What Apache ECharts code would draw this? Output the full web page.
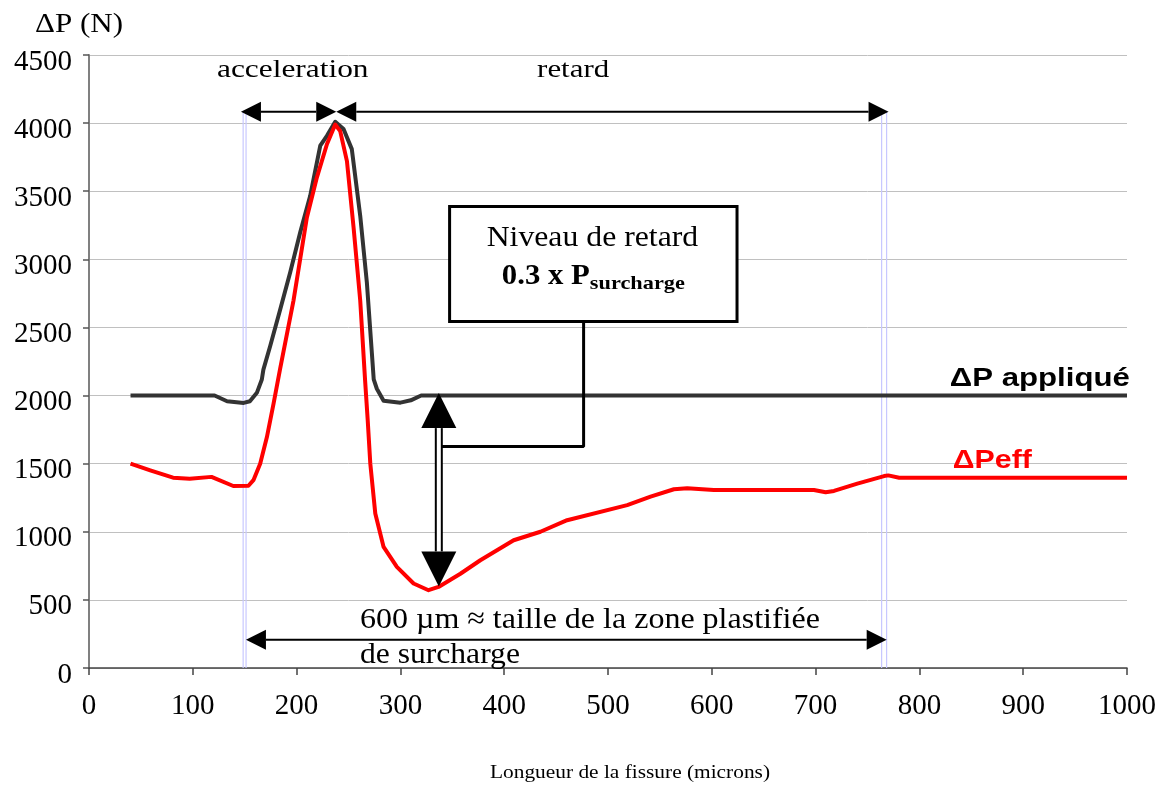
<!DOCTYPE html>
<html><head><meta charset="utf-8">
<script src="https://cdn.jsdelivr.net/npm/echarts@6/dist/echarts.min.js"></script>
<style>html,body{margin:0;padding:0;background:#fff}#c{width:1168px;height:785px}</style>
</head><body><div id="c"></div>
<script>
// ---- data ----
const appliedX = [40,121,133,149,155,161.7,166.5,168,174.5,184.2,193.8,203.5,213.1,222.8,229.2,237.2,245.2,253.2,261.3,267.7,272.5,274.3,277.3,283.8,300,310,320,1000];
const appliedY = [2000,2000,1958,1946,1958,2020,2118,2190,2362,2632,2904,3198,3466,3834,3907,4010,3956,3809,3319,2829,2314,2118,2050,1962,1948,1965,2000,2000];
const effX = [40,59,81,97,118,139,153.6,158.4,164.9,171.4,177.8,184.2,197,209.9,219.5,229.2,237.2,242,248.5,254.9,261.3,266,268.5,271,275.8,283.8,296.6,312.7,327.1,336.7,357.8,377,409.1,434.9,460.6,518.5,541,563.5,576.3,601.9,640.5,698.4,709.7,717.7,740.2,766,770,780.5,1000];
const effY = [1500,1451,1397,1390,1403,1336,1338,1379,1500,1695,1940,2200,2697,3307,3600,3845,3990,3941,3721,3233,2697,2110,1820,1500,1134,889,742,620,571,595,692,791,938,1000,1085,1196,1258,1312,1319,1307,1307,1307,1290,1300,1353,1409,1414,1397,1397];

// annotation geometry (data units)
const zoneLinesX = [148.5, 151.3, 763.6, 768.4];
const zoneLineTop = 4090;
const spanArrows = [[146.4,4084,238.2,4084],[238.2,4084,770.3,4084],[151.2,208,768.5,208]];
const levelArrow = [[337,2018,337,599]];
const calloutBox = [[347.4,3387,624.3,2543]];
const calloutLeader = [[476.5,2543],[476.5,1626],[339,1626]];
const noteTexts = ['acceleration','retard','Niveau de retard','0.3 x P','surcharge','600 \u00b5m \u2248 taille de la zone plastifi\u00e9e','de surcharge','\u0394P appliqu\u00e9','\u0394Peff'];
const noteAnchors = [[196.3,4387],[466.4,4387],[485,3157],[482.5,2878],[482.5,2818],[261,349],[261,92],[829.3,2125],[832.2,1518]];
const yAxisTitle = '\u0394P (N)';
const xAxisTitle = 'Longueur de la fissure (microns)';

// ---- styles ----
const SERIF = 'Liberation Serif', SANS = 'Liberation Sans';
const noteStyles = [
  {size:26, family:SERIF, weight:'normal', align:'center', width:151.6, color:'#000'},
  {size:26, family:SERIF, weight:'normal', align:'center', width:72, color:'#000'},
  {size:29, family:SERIF, weight:'normal', align:'center', width:211.6, color:'#000'},
  {size:30, family:SERIF, weight:'bold', align:'right', width:88, color:'#000'},
  {size:19, family:SERIF, weight:'bold', align:'left', width:95, color:'#000'},
  {size:30, family:SERIF, weight:'normal', align:'left', width:460, color:'#000'},
  {size:30, family:SERIF, weight:'normal', align:'left', width:160, color:'#000'},
  {size:26, family:SANS, weight:'bold', align:'left', width:180, color:'#000'},
  {size:26, family:SANS, weight:'bold', align:'left', width:79, color:'#ff0000'}
];
const mctx = document.createElement('canvas').getContext('2d');
function stretch(text, size, family, weight, target){
  mctx.font = weight + ' ' + size + 'px "' + family + '"';
  const w = mctx.measureText(text).width;
  return w > 0 ? target / w : 1;
}

const chart = echarts.init(document.getElementById('c'), null, {renderer:'canvas'});

function arrowGroup(api, L, W, lw, hollow){
  const p1 = api.coord([api.value(0), api.value(1)]);
  const p2 = api.coord([api.value(2), api.value(3)]);
  const dx = p2[0]-p1[0], dy = p2[1]-p1[1];
  const len = Math.hypot(dx, dy) || 1;
  const ux = dx/len, uy = dy/len, nx = -uy, ny = ux;
  const b1 = [p1[0]+ux*L, p1[1]+uy*L], b2 = [p2[0]-ux*L, p2[1]-uy*L];
  const children = [];
  if (hollow) {
    const o = 3;
    children.push({type:'polygon', shape:{points:[[b1[0]+nx*o,b1[1]+ny*o],[b2[0]+nx*o,b2[1]+ny*o],[b2[0]-nx*o,b2[1]-ny*o],[b1[0]-nx*o,b1[1]-ny*o]]}, style:{fill:'#fff', stroke:null}});
    children.push({type:'line', shape:{x1:b1[0]+nx*o, y1:b1[1]+ny*o, x2:b2[0]+nx*o, y2:b2[1]+ny*o}, style:{stroke:'#000', lineWidth:lw}});
    children.push({type:'line', shape:{x1:b1[0]-nx*o, y1:b1[1]-ny*o, x2:b2[0]-nx*o, y2:b2[1]-ny*o}, style:{stroke:'#000', lineWidth:lw}});
  } else {
    children.push({type:'line', shape:{x1:b1[0], y1:b1[1], x2:b2[0], y2:b2[1]}, style:{stroke:'#000', lineWidth:lw}});
  }
  children.push({type:'polygon', shape:{points:[p1,[b1[0]+nx*W,b1[1]+ny*W],[b1[0]-nx*W,b1[1]-ny*W]]}, style:{fill:'#000'}});
  children.push({type:'polygon', shape:{points:[p2,[b2[0]+nx*W,b2[1]+ny*W],[b2[0]-nx*W,b2[1]-ny*W]]}, style:{fill:'#000'}});
  return {type:'group', children};
}

const option = {
  animation: false,
  backgroundColor: '#fff',
  grid: {left:89, right:41, top:55, bottom:117},
  xAxis: {
    type:'value', min:0, max:1000, interval:100,
    axisLine:{show:true, onZero:false, lineStyle:{color:'#444', width:1.5}},
    axisTick:{show:true, inside:false, length:7, lineStyle:{color:'#444', width:1.5}},
    axisLabel:{color:'#000', fontFamily:SERIF, fontSize:29, margin:24, formatter: v => String(v)},
    splitLine:{show:false}
  },
  yAxis: {
    type:'value', min:0, max:4500, interval:500,
    axisLine:{show:true, lineStyle:{color:'#808080', width:2}},
    axisTick:{show:true, inside:false, length:6, lineStyle:{color:'#555', width:1.5}},
    axisLabel:{color:'#000', fontFamily:SERIF, fontSize:29, margin:17, verticalAlign:'top', lineHeight:14, formatter: v => String(v)},
    splitLine:{show:true, lineStyle:{color:'#c0c0c0', width:1}}
  },
  graphic: [
    {type:'text', x:35, y:25, scaleX:stretch(yAxisTitle,27,SERIF,'normal',88),
     style:{text:yAxisTitle, fontSize:27, fontFamily:SERIF, fill:'#000', align:'left', verticalAlign:'middle'}},
    {type:'text', x:630, y:773, scaleX:stretch(xAxisTitle,19,SERIF,'normal',280),
     style:{text:xAxisTitle, fontSize:19, fontFamily:SERIF, fill:'#000', align:'center', verticalAlign:'middle'}}
  ],
  series: [
    {
      name:'zone', type:'custom', z:1, silent:true,
      data: zoneLinesX.map(x => [x, zoneLineTop]),
      encode:{x:0, y:1},
      renderItem:(params, api) => {
        const a = api.coord([api.value(0), 0]);
        const b = api.coord([api.value(0), api.value(1)]);
        return {type:'line', shape:{x1:a[0], y1:a[1], x2:b[0], y2:b[1]}, style:{stroke:'#c8c8ff', lineWidth:1.2}};
      }
    },
    {
      name:'\u0394P appliqu\u00e9', type:'line', z:3, showSymbol:false, silent:true,
      data: appliedX.map((x,i) => [x, appliedY[i]]),
      lineStyle:{color:'#333333', width:4, join:'round'},
      itemStyle:{color:'#333333'}
    },
    {
      name:'\u0394Peff', type:'line', z:3, showSymbol:false, silent:true,
      data: effX.map((x,i) => [x, effY[i]]),
      lineStyle:{color:'#ff0000', width:4, join:'round'},
      itemStyle:{color:'#ff0000'}
    },
    {
      name:'leader', type:'line', z:4, showSymbol:false, silent:true,
      data: calloutLeader,
      lineStyle:{color:'#000', width:3}
    },
    {
      name:'box', type:'custom', z:4, silent:true,
      data: calloutBox, encode:{x:[0,2], y:[1,3]},
      renderItem:(params, api) => {
        const a = api.coord([api.value(0), api.value(1)]);
        const b = api.coord([api.value(2), api.value(3)]);
        return {type:'rect', shape:{x:a[0], y:a[1], width:b[0]-a[0], height:b[1]-a[1]}, style:{fill:'#fff', stroke:'#000', lineWidth:3}};
      }
    },
    {
      name:'spans', type:'custom', z:5, silent:true,
      data: spanArrows, encode:{x:[0,2], y:[1,3]},
      renderItem:(params, api) => arrowGroup(api, 20, 10, 2, false)
    },
    {
      name:'level', type:'custom', z:5, silent:true,
      data: levelArrow, encode:{x:[0,2], y:[1,3]},
      renderItem:(params, api) => arrowGroup(api, 35, 17.5, 2, true)
    },
    {
      name:'notes', type:'custom', z:6, silent:true,
      data: noteAnchors, encode:{x:0, y:1},
      renderItem:(params, api) => {
        const i = params.dataIndex, s = noteStyles[i], t = noteTexts[i];
        const p = api.coord([api.value(0), api.value(1)]);
        return {type:'text', x:p[0], y:p[1], scaleX:stretch(t, s.size, s.family, s.weight, s.width),
          style:{text:t, fontSize:s.size, fontFamily:s.family, fontWeight:s.weight, fill:s.color, align:s.align, verticalAlign:'middle'}};
      }
    }
  ]
};
chart.setOption(option);
</script>
</body></html>
